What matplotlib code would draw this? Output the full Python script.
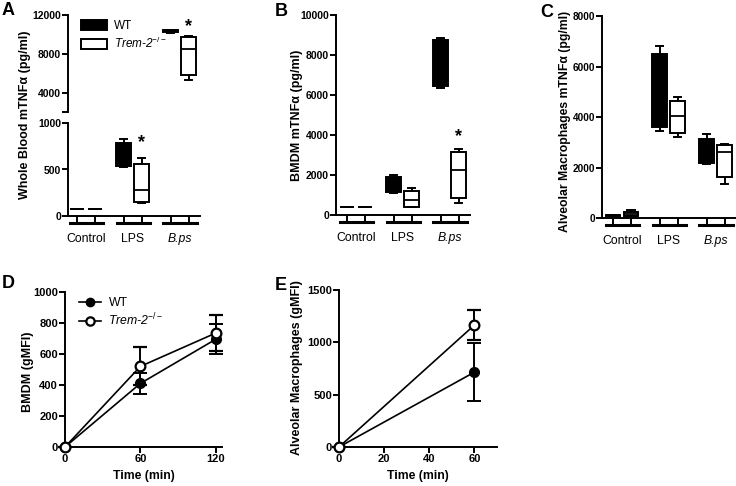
import matplotlib
matplotlib.use("Agg")
import matplotlib.pyplot as plt
from matplotlib.patches import Patch
from matplotlib.lines import Line2D

plt.rcParams['font.family'] = ['Liberation Sans', 'DejaVu Sans']
plt.rcParams['mathtext.fontset'] = 'custom'
plt.rcParams['mathtext.rm'] = 'Liberation Sans'
plt.rcParams['mathtext.it'] = 'Liberation Sans:italic'

# groups and box positions (WT, Trem-2-/- per group)
groups = ['Control', 'LPS', 'B.ps']
positions = [1, 2, 3.6, 4.6, 6.2, 7.2]
ko_label = 'Trem-2$^{-/-}$'

# panel A: whole blood (lo, q1, med, q3, hi), order WT/KO per group
a_lo = [75, 75, 525, 140, 10200, 5330]
a_q1 = [75, 75, 540, 155, 10250, 5880]
a_med = [75, 75, 650, 280, 10350, 8480]
a_q3 = [75, 75, 785, 560, 10450, 9780]
a_hi = [75, 75, 825, 620, 10500, 9850]

# panel B: BMDM
b_lo = [380, 380, 1080, 380, 6330, 580]
b_q1 = [380, 380, 1130, 420, 6450, 830]
b_med = [380, 380, 1500, 750, 7500, 2250]
b_q3 = [380, 380, 1880, 1200, 8750, 3170]
b_hi = [380, 380, 1980, 1330, 8870, 3280]

# panel C: alveolar macrophages
c_lo = [70, 70, 3450, 3210, 2120, 1360]
c_q1 = [80, 70, 3590, 3370, 2160, 1630]
c_med = [100, 170, 5000, 4030, 2600, 2620]
c_q3 = [110, 250, 6480, 4640, 3110, 2900]
c_hi = [120, 330, 6810, 4780, 3320, 2920]

# panel D: BMDM gMFI over time
d_time = [0, 60, 120]
d_wt = [0, 410, 695]
d_wt_err = [0, 70, 97]
d_ko = [0, 520, 735]
d_ko_err = [0, 122, 117]

# panel E: alveolar macrophage gMFI
e_time = [0, 60]
e_wt = [0, 715]
e_wt_err = [0, 275]
e_ko = [0, 1165]
e_ko_err = [0, 144]

W, H = 736, 486
fig = plt.figure(figsize=(W / 100, H / 100), dpi=100)


def rect(x0, y0, x1, y1):
    return [x0 / W, 1 - y1 / H, (x1 - x0) / W, (y1 - y0) / H]


def style_axes(ax, bottom=True, labelsize=8):
    for s in ['top', 'right']:
        ax.spines[s].set_visible(False)
    for s in ['left', 'bottom']:
        ax.spines[s].set_linewidth(1.4)
    if not bottom:
        ax.spines['bottom'].set_visible(False)
    ax.tick_params(width=1.4, length=4, labelsize=labelsize, pad=1)
    for lab in ax.get_yticklabels() + ax.get_xticklabels():
        lab.set_fontweight('bold')


def draw_boxes(ax, lo, q1, med, q3, hi):
    for i, p in enumerate(positions):
        st = dict(whislo=lo[i], q1=q1[i], med=med[i], q3=q3[i], whishi=hi[i], fliers=[])
        wt = i % 2 == 0
        ax.bxp([st], positions=[p], widths=0.82, patch_artist=True, showfliers=False,
               capwidths=0.4,
               boxprops=dict(facecolor='black' if wt else 'white', edgecolor='black', linewidth=1.4),
               medianprops=dict(color='black', linewidth=1.3),
               whiskerprops=dict(color='black', linewidth=1.4),
               capprops=dict(color='black', linewidth=1.4))


def category_axis(ax, xmin, bar_y=-0.035, label_pad=12):
    ax.set_xlim(xmin, 7.83)
    ax.set_xticks(positions)
    ax.set_xticklabels([])
    centers = [(positions[2 * k] + positions[2 * k + 1]) / 2 for k in range(3)]
    ax.set_xticks(centers, minor=True)
    ax.set_xticklabels(groups, minor=True)
    ax.tick_params(axis='x', which='minor', length=0, pad=label_pad, labelsize=8.8)
    for lab in ax.get_xticklabels(minor=True):
        lab.set_fontweight('normal')
    ax.get_xticklabels(minor=True)[2].set_fontstyle('italic')
    for k in range(3):
        ax.plot([positions[2 * k] - 0.4, positions[2 * k + 1] + 0.45], [bar_y, bar_y],
                transform=ax.get_xaxis_transform(), clip_on=False, color='black', lw=2.2)


# ---- A (broken axis)
axA_top = fig.add_axes(rect(68, 15, 200, 112))
axA = fig.add_axes(rect(68, 123, 200, 216))
for ax in (axA_top, axA):
    draw_boxes(ax, a_lo, a_q1, a_med, a_q3, a_hi)
axA_top.set_ylim(2050, 12000)
axA_top.set_yticks([4000, 8000, 12000])
axA_top.set_yticks([2050], minor=True)
axA_top.tick_params(axis='y', which='minor', length=4, width=1.4)
axA_top.set_xlim(0.5, 7.83)
axA_top.set_xticks([])
axA.set_ylim(0, 1000)
axA.set_yticks([0, 500, 1000])
category_axis(axA, 0.5, bar_y=-0.075, label_pad=12)
style_axes(axA_top, bottom=False, labelsize=7.5)
style_axes(axA, labelsize=7.5)
axA.text(4.6, 700, '*', ha='center', va='bottom', fontsize=13, fontweight='bold')
axA_top.text(7.2, 9900, '*', ha='center', va='bottom', fontsize=13, fontweight='bold')
axA_top.legend([Patch(facecolor='black', edgecolor='black', lw=1.4),
                Patch(facecolor='white', edgecolor='black', lw=1.4)],
               ['WT', ko_label], loc='upper left', bbox_to_anchor=(0.02, 1.06),
               frameon=False, fontsize=8.5, handlelength=2.2, handleheight=1.0,
               handletextpad=0.6, labelspacing=0.3)
leg = axA_top.get_legend()
leg.get_texts()[1].set_fontstyle('italic')
fig.text(25 / W, 1 - 115 / H, 'Whole Blood mTNFα (pg/ml)', rotation=90,
         ha='center', va='center', fontsize=9, fontweight='bold')

# ---- B
axB = fig.add_axes(rect(336, 15, 470, 215))
draw_boxes(axB, b_lo, b_q1, b_med, b_q3, b_hi)
axB.set_ylim(0, 10000)
axB.set_yticks(range(0, 10001, 2000))
category_axis(axB, 0.39)
style_axes(axB, labelsize=7.5)
axB.text(7.2, 3500, '*', ha='center', va='bottom', fontsize=13, fontweight='bold')
fig.text(297 / W, 1 - 115 / H, 'BMDM mTNFα (pg/ml)', rotation=90,
         ha='center', va='center', fontsize=9, fontweight='bold')

# ---- C
axC = fig.add_axes(rect(602, 16, 736, 218))
draw_boxes(axC, c_lo, c_q1, c_med, c_q3, c_hi)
axC.set_ylim(0, 8000)
axC.set_yticks(range(0, 8001, 2000))
category_axis(axC, 0.39)
style_axes(axC, labelsize=7.2)
fig.text(565 / W, 1 - 121 / H, 'Alveolar Macrophages mTNFα (pg/ml)', rotation=90,
         ha='center', va='center', fontsize=8.8, fontweight='bold')

# ---- D
axD = fig.add_axes(rect(65, 292, 222, 447))
axD.errorbar(d_time, d_wt, yerr=d_wt_err, color='black', marker='o', ms=7, lw=1.2,
             elinewidth=1.4, capsize=5, capthick=1.4, clip_on=False, zorder=3)
axD.errorbar(d_time, d_ko, yerr=d_ko_err, color='black', marker='o', ms=7, lw=1.2,
             mfc='white', mew=1.6, elinewidth=1.4, capsize=5, capthick=1.4,
             clip_on=False, zorder=4)
axD.set_xlim(0, 125)
axD.set_ylim(0, 1000)
axD.set_xticks([0, 60, 120])
axD.set_yticks(range(0, 1001, 200))
axD.set_xlabel('Time (min)', fontsize=8.8, fontweight='bold', labelpad=4)
style_axes(axD)
axD.legend([Line2D([], [], color='black', marker='o', ms=6, lw=1.2),
            Line2D([], [], color='black', marker='o', ms=6, lw=1.2, mfc='white', mew=1.6)],
           ['WT', ko_label], loc='upper left', bbox_to_anchor=(0.02, 1.04),
           frameon=False, fontsize=8.8, handlelength=1.8, handletextpad=0.6,
           labelspacing=0.2)
axD.get_legend().get_texts()[1].set_fontstyle('italic')
fig.text(28 / W, 1 - 372 / H, 'BMDM (gMFI)', rotation=90,
         ha='center', va='center', fontsize=9, fontweight='bold')

# ---- E
axE = fig.add_axes(rect(339, 290, 497, 447))
axE.errorbar(e_time, e_wt, yerr=e_wt_err, color='black', marker='o', ms=7, lw=1.2,
             elinewidth=1.4, capsize=5, capthick=1.4, clip_on=False, zorder=3)
axE.errorbar(e_time, e_ko, yerr=e_ko_err, color='black', marker='o', ms=7, lw=1.2,
             mfc='white', mew=1.6, elinewidth=1.4, capsize=5, capthick=1.4,
             clip_on=False, zorder=4)
axE.set_xlim(0, 70)
axE.set_ylim(0, 1500)
axE.set_xticks([0, 20, 40, 60])
axE.set_yticks([0, 500, 1000, 1500])
axE.set_xlabel('Time (min)', fontsize=8.8, fontweight='bold', labelpad=4)
style_axes(axE)
fig.text(297 / W, 1 - 368 / H, 'Alveolar Macrophages (gMFI)', rotation=90,
         ha='center', va='center', fontsize=9, fontweight='bold')

# panel letters
for letter, (x, y) in zip('ABCDE', [(2, 2), (275, 3), (540, 4), (2, 275), (275, 277)]):
    fig.text(x / W, 1 - y / H, letter, ha='left', va='top', fontsize=13, fontweight='bold')

fig.savefig('out.png', dpi=100)
